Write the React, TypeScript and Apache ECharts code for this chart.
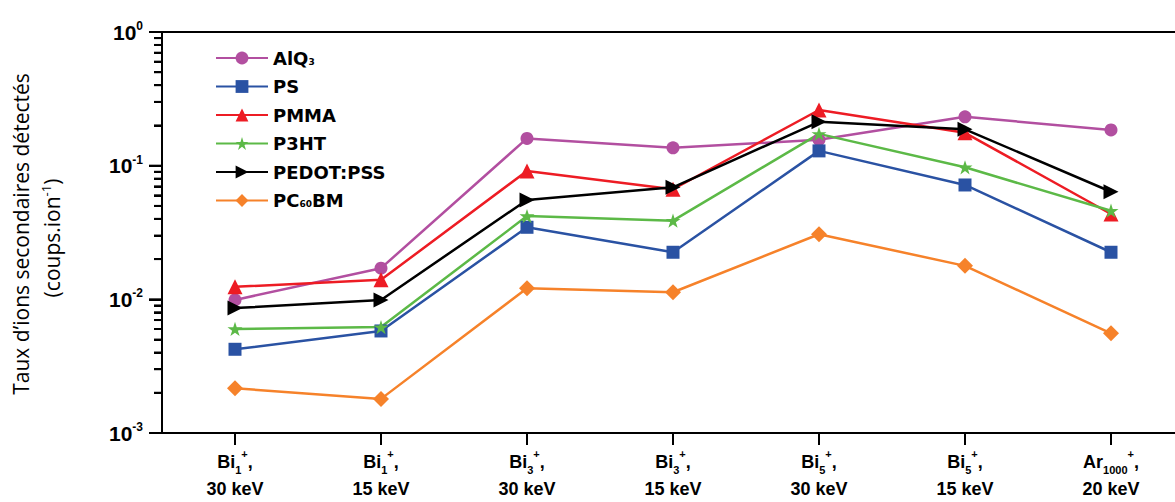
import React, { useEffect, useRef } from "react";
import * as echarts from "echarts";

// Categories (ion beam, cluster size, energy)
const ionBase = ["Bi", "Bi", "Bi", "Bi", "Bi", "Bi", "Ar"];
const ionSize = ["1", "1", "3", "3", "5", "5", "1000"];
const energies = ["30 keV", "15 keV", "30 keV", "15 keV", "30 keV", "15 keV", "20 keV"];
const categories = ionBase.map((b, i) => `${b}${ionSize[i]}+, ${energies[i]}`);

// Series values (coups.ion^-1)
const alq3 = [0.0099, 0.0171, 0.16, 0.136, 0.156, 0.232, 0.185];
const ps = [0.00423, 0.0058, 0.0346, 0.0225, 0.129, 0.0717, 0.0225];
const pmma = [0.0124, 0.014, 0.0912, 0.0666, 0.261, 0.176, 0.0435];
const p3ht = [0.006, 0.0062, 0.042, 0.0388, 0.173, 0.0972, 0.046];
const pedot = [0.0086, 0.0099, 0.0554, 0.0689, 0.213, 0.187, 0.0638];
const pc60bm = [0.00216, 0.0018, 0.0121, 0.0113, 0.0307, 0.0178, 0.00557];

const seriesNames = ["AlQ3", "PS", "PMMA", "P3HT", "PEDOT:PSS", "PC60BM"];
const legendLabels: Record<string, string> = {
  AlQ3: "AlQ{sub|3}",
  PS: "PS",
  PMMA: "PMMA",
  P3HT: "P3HT",
  "PEDOT:PSS": "PEDOT:PSS",
  PC60BM: "PC{sub|60}BM",
};

// Y axis tick positions: decades and minor ticks (2..9 per decade)
const majorTicks = [0.001, 0.01, 0.1, 1];
const minorMultipliers = [2, 3, 4, 5, 6, 7, 8, 9];
const decades = [0.001, 0.01, 0.1];
const minorTicks = decades.flatMap((d) => minorMultipliers.map((m) => +(m * d).toPrecision(3)));

const STAR =
  "path://M50,0 L61.2,34.5 L97.6,34.5 L68.2,55.9 L79.4,90.5 L50,69.1 L20.6,90.5 L31.8,55.9 L2.4,34.5 L38.8,34.5 Z";

export default function App() {
  const ref = useRef<HTMLDivElement>(null);

  useEffect(() => {
    if (!ref.current) return;
    const chart = echarts.init(ref.current, undefined, { renderer: "svg" });
    const axisFont = "'Liberation Sans', Arial, sans-serif";

    const mk = (name: string, data: number[], color: string, symbol: string, size: number, extra: any = {}) => ({
      name,
      type: "line",
      data,
      symbol,
      symbolSize: size,
      symbolKeepAspect: true,
      lineStyle: { color, width: 2.5 },
      itemStyle: { color, borderWidth: 0 },
      z: 3,
      ...extra,
    });

    const tickData = [
      ...majorTicks.map((v) => [0, v, 13]),
      ...minorTicks.map((v) => [0, v, 8]),
    ];

    chart.setOption({
      animation: false,
      grid: {
        left: 162,
        top: 32,
        height: 401,
        width: 1022,
      },
      legend: {
        orient: "vertical",
        left: 210,
        top: 44,
        itemWidth: 52,
        itemHeight: 16,
        itemGap: 10.5,
        data: seriesNames,
        formatter: (n: string) => legendLabels[n] || n,
        textStyle: {
          fontFamily: "'DejaVu Sans', sans-serif",
          fontWeight: "bold",
          fontSize: 18,
          color: "#000",
          lineHeight: 16,
          rich: {
            sub: {
              fontFamily: "'DejaVu Sans', sans-serif",
              fontWeight: "bold",
              fontSize: 9,
              lineHeight: 8,
              verticalAlign: "bottom",
              color: "#000",
            },
          },
        },
      },
      xAxis: [
        {
          type: "category",
          data: categories,
          boundaryGap: true,
          axisLine: { show: true, lineStyle: { color: "#000", width: 2 } },
          axisTick: {
            show: true,
            alignWithLabel: true,
            interval: 0,
            length: 12,
            lineStyle: { color: "#000", width: 2 },
          },
          axisLabel: {
            interval: 0,
            margin: 15,
            color: "#000",
            formatter: (_v: string, i: number) =>
              `{b|${ionBase[i]}}{sub|${ionSize[i]}}{sup|+}{b|,}\n{b|${energies[i]}}`,
            rich: {
              b: { fontFamily: axisFont, fontWeight: "bold", fontSize: 18, lineHeight: 27, color: "#000" },
              sub: {
                fontFamily: axisFont,
                fontWeight: "bold",
                fontSize: 11,
                lineHeight: 16,
                verticalAlign: "bottom",
                color: "#000",
              },
              sup: {
                fontFamily: axisFont,
                fontWeight: "bold",
                fontSize: 11,
                lineHeight: 20,
                verticalAlign: "top",
                color: "#000",
              },
            },
          },
          splitLine: { show: false },
        },
        {
          type: "category",
          data: categories,
          position: "top",
          axisLine: { show: true, lineStyle: { color: "#000", width: 2 } },
          axisTick: { show: false },
          axisLabel: { show: false },
          splitLine: { show: false },
        },
      ],
      yAxis: [
        {
          type: "log",
          min: 0.001,
          max: 1,
          axisLine: { show: true, lineStyle: { color: "#000", width: 2 } },
          axisTick: { show: true, length: 13, lineStyle: { color: "#000", width: 2 } },
          splitLine: { show: false },
          axisLabel: {
            margin: 19,
            color: "#000",
            formatter: (v: number) => `{b|10}{s|${Math.round(Math.log10(v))}}`,
            rich: {
              b: { fontFamily: axisFont, fontWeight: "bold", fontSize: 21, lineHeight: 24, color: "#000" },
              s: {
                fontFamily: axisFont,
                fontWeight: "bold",
                fontSize: 12,
                lineHeight: 14,
                verticalAlign: "top",
                color: "#000",
              },
            },
          },
        },
        {
          type: "log",
          min: 0.001,
          max: 1,
          position: "left",
          axisLine: { show: false },
          axisTick: { show: true, length: 8, customValues: minorTicks, lineStyle: { color: "#000", width: 2 } },
          axisLabel: { show: false },
          splitLine: { show: false },
        },
      ],
      graphic: [
        {
          type: "text",
          x: 21,
          y: 234,
          rotation: Math.PI / 2,
          style: {
            text: "Taux d’ions secondaires détectés",
            fontFamily: "'Open Sans', sans-serif",
            fontSize: 21,
            fill: "#000",
            align: "center",
            verticalAlign: "middle",
          },
        },
        {
          type: "text",
          x: 52,
          y: 238,
          rotation: Math.PI / 2,
          style: {
            text: "{a|(coups.ion}{s|-1}{a|)}",
            fontFamily: "'Open Sans', sans-serif",
            fontSize: 21,
            fill: "#000",
            align: "center",
            verticalAlign: "middle",
            rich: {
              a: { fontFamily: "'Open Sans', sans-serif", fontSize: 21, lineHeight: 26, fill: "#000" },
              s: {
                fontFamily: "'Open Sans', sans-serif",
                fontSize: 13,
                lineHeight: 14,
                verticalAlign: "top",
                fill: "#000",
              },
            },
          },
        },
      ],
      series: [
        {
          name: "yTicks",
          type: "custom",
          silent: true,
          clip: false,
          z: 5,
          data: tickData,
          renderItem: (params: any, api: any) => {
            const p = api.coord([0, api.value(1)]);
            const len = api.value(2);
            const x0 = params.coordSys.x;
            return {
              type: "line",
              shape: { x1: x0 - len, y1: p[1], x2: x0, y2: p[1] },
              style: { stroke: "#000", lineWidth: 2 },
            };
          },
        },
        mk("AlQ3", alq3, "#b24fa0", "circle", 13),
        mk("PS", ps, "#2a52a3", "rect", 13),
        mk("PMMA", pmma, "#ed1c24", "triangle", 15),
        mk("P3HT", p3ht, "#5cb947", STAR, 15),
        mk("PEDOT:PSS", pedot, "#000000", "triangle", 15, { symbolRotate: -90 }),
        mk("PC60BM", pc60bm, "#f6822a", "diamond", 16),
      ],
    });

    return () => chart.dispose();
  }, []);

  return (
    <div style={{ position: "fixed", left: 0, top: 0, width: 1175, height: 502, overflow: "hidden", background: "#fff" }}>
      <div ref={ref} style={{ width: 1200, height: 502 }} />
    </div>
  );
}
